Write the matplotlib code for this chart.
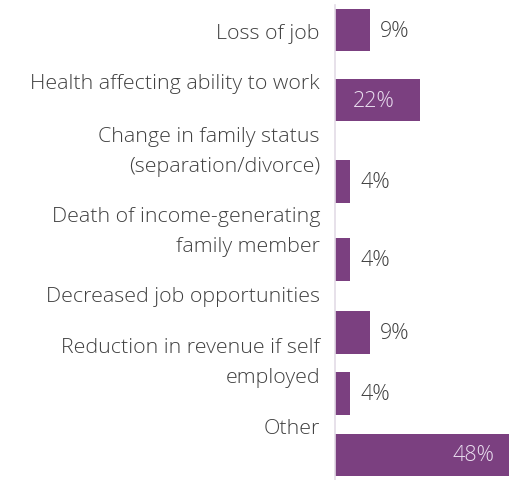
import matplotlib
matplotlib.use("Agg")
import matplotlib.pyplot as plt

# dados
categorias = [
    "Loss of job",
    "Health affecting ability to work",
    "Change in family status\n(separation/divorce)",
    "Death of income-generating\nfamily member",
    "Decreased job opportunities",
    "Reduction in revenue if self\nemployed",
    "Other",
]
valores = [9, 22, 4, 4, 9, 4, 48]
dentro = [False, True, False, False, False, False, True]  # rotulo dentro da barra

# layout (linhas irregulares como no original)
pos_barra = [0, 0.99, 2.14, 3.24, 4.27, 5.13, 6.0]
pos_rotulo = [0.04, 0.75, 1.71, 2.84, 3.76, 4.69, 5.62]

ROXO = "#7B4080"
CINZA = "#404040"
plt.rcParams["font.family"] = ["Open Sans", "DejaVu Sans"]

fig = plt.figure(figsize=(5.09, 4.81), dpi=100)
ax = fig.add_axes([334.7 / 509, 0, 174.3 / 509, 475 / 481])

ax.barh(pos_barra, valores, height=0.6, color=ROXO)
ax.set_xlim(0, 174.3 / 3.87)
ax.set_ylim(6.353, -0.353)

for y, v, d in zip(pos_barra, valores, dentro):
    if d:
        ax.annotate("%d%%" % v, (v, y), xytext=(-18.5, 0), textcoords="offset points",
                    ha="right", va="center", color="#E8DCEE", fontsize=15.5,
                    fontweight="light", annotation_clip=False)
    else:
        ax.annotate("%d%%" % v, (v, y), xytext=(7.2, 0), textcoords="offset points",
                    ha="left", va="center", color=CINZA, fontsize=15.5,
                    fontweight="light")

for y, t in zip(pos_rotulo, categorias):
    ax.text(-14.7 / 3.87, y, t, ha="right", va="center", color=CINZA,
            fontsize=15.4, fontweight="light", linespacing=1.7, clip_on=False)

for s in ["top", "right", "bottom"]:
    ax.spines[s].set_visible(False)
ax.spines["left"].set_color("#E3DCE6")
ax.spines["left"].set_linewidth(1.2)
ax.set_xticks([])
ax.set_yticks([])

fig.savefig("out.png", dpi=100)
